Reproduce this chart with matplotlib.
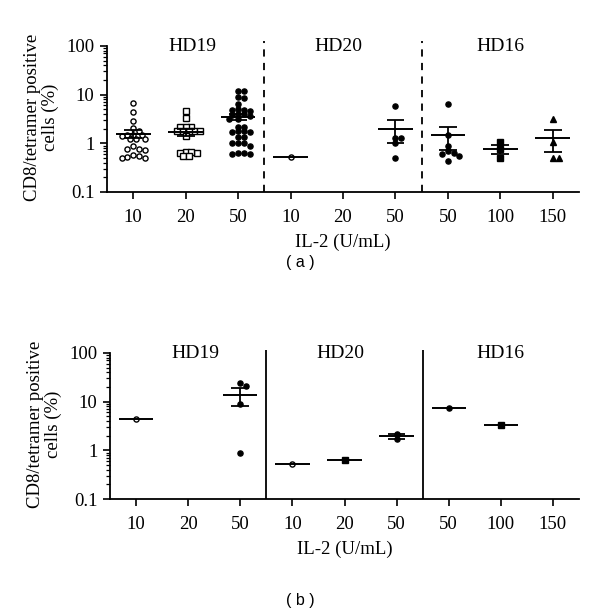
import numpy as np
import matplotlib
matplotlib.use("Agg")
import matplotlib.pyplot as plt
from matplotlib.ticker import FixedLocator, FixedFormatter, LogLocator, NullFormatter

# ---------------- data ----------------
xtick_labels = ["10", "20", "50", "10", "20", "50", "50", "100", "150"]
donors = ["HD19", "HD20", "HD16"]

# panel (a)
a_hd19_10 = [6.7, 4.4, 2.9, 2.1, 1.8, 1.5, 1.45, 1.5, 1.42, 1.25, 1.22, 1.2, 0.87, 0.75, 0.77,
             0.73, 0.57, 0.52, 0.5, 0.51, 0.56]
a_hd19_20 = [4.5, 3.3, 2.2, 2.2, 2.2, 1.8, 1.8, 1.8, 1.8, 1.8, 1.4, 0.66, 0.64, 0.64, 0.66,
             0.54, 0.55]
a_hd19_50 = [11.8, 11.8, 8.9, 8.5, 6.5, 5.0, 4.8, 4.9, 4.7, 4.0, 3.8, 3.7, 3.9, 3.2, 3.2,
             2.2, 2.2, 1.75, 1.7, 1.7, 1.75, 1.35, 1.35, 1.02, 1.0, 1.02, 0.88, 0.64, 0.6, 0.6, 0.64]
a_hd20_10 = [0.52]
a_hd20_20 = []
a_hd20_50 = [5.8, 1.3, 1.3, 1.0, 0.51]
a_hd16_50 = [6.5, 1.45, 0.9, 0.63, 0.68, 0.6, 0.55, 0.43]
a_hd16_100 = [1.06, 0.75, 0.5]
a_hd16_150 = [3.1, 1.06, 0.5, 0.5]

# panel (b)
b_hd19_10 = [4.3]
b_hd19_20 = []
b_hd19_50 = [21.0, 23.8, 8.8, 0.87]
b_hd20_10 = [0.52]
b_hd20_20 = [0.63]
b_hd20_50 = [1.68, 2.2]
b_hd16_50 = [7.5]
b_hd16_100 = [3.37]
b_hd16_150 = []

OPEN_O = dict(marker="o", mfc="white", mec="black")
OPEN_S = dict(marker="s", mfc="white", mec="black")
FILL_O = dict(marker="o", mfc="black", mec="black")
FILL_S = dict(marker="s", mfc="black", mec="black")
FILL_T = dict(marker="^", mfc="black", mec="black")

panel_a = [(a_hd19_10, OPEN_O), (a_hd19_20, OPEN_S), (a_hd19_50, FILL_O),
           (a_hd20_10, OPEN_O), (a_hd20_20, OPEN_O), (a_hd20_50, FILL_O),
           (a_hd16_50, FILL_O), (a_hd16_100, FILL_S), (a_hd16_150, FILL_T)]
panel_b = [(b_hd19_10, OPEN_O), (b_hd19_20, OPEN_O), (b_hd19_50, FILL_O),
           (b_hd20_10, OPEN_O), (b_hd20_20, FILL_S), (b_hd20_50, FILL_O),
           (b_hd16_50, FILL_O), (b_hd16_100, FILL_S), (b_hd16_150, FILL_T)]

SERIF = ["Liberation Serif", "DejaVu Serif"]
plt.rcParams["font.family"] = SERIF

W, H = 600, 612
fig = plt.figure(figsize=(W / 100, H / 100), dpi=100)

DEC_PX = 48.7   # pixels per decade
STEP_PX = 52.5  # pixels per category


def swarm(vals, d_px=5.8, thr=4.6):
    """simple beeswarm offsets (in category units)"""
    order = np.argsort(vals)[::-1]
    placed = []
    offs = np.zeros(len(vals))
    for i in order:
        y = np.log10(vals[i]) * DEC_PX
        cands = [0.0]
        for m in range(1, 30):
            cands += [m * d_px / 2, -m * d_px / 2]
        for c in cands:
            ok = all((c - px) ** 2 + (y - py) ** 2 >= thr ** 2 for px, py in placed)
            if ok:
                placed.append((c, y))
                offs[i] = c / STEP_PX
                break
    return offs


def make_panel(rect, groups, divider_style, title_y):
    ax = fig.add_axes(rect)
    ax.set_yscale("log")
    ax.set_ylim(0.1, 120)
    ax.set_xlim(-0.5, 8.5)
    for sp in ["top", "right"]:
        ax.spines[sp].set_visible(False)
    ax.spines["left"].set_bounds(0.1, 100)
    for sp in ["left", "bottom"]:
        ax.spines[sp].set_linewidth(1.3)
    ax.yaxis.set_major_locator(FixedLocator([0.1, 1, 10, 100]))
    ax.yaxis.set_major_formatter(FixedFormatter(["0.1", "1", "10", "100"]))
    ax.yaxis.set_minor_locator(LogLocator(base=10, subs=np.arange(2, 10)))
    ax.yaxis.set_minor_formatter(NullFormatter())
    ax.set_xticks(range(9))
    ax.set_xticklabels(xtick_labels)
    ax.tick_params(axis="both", which="major", direction="out", length=5, width=1.2,
                   labelsize=13.5, pad=4)
    ax.tick_params(axis="y", which="minor", direction="out", length=3, width=0.9)
    ax.tick_params(axis="x", pad=7)

    for pos, (vals, style) in enumerate(groups):
        if len(vals) == 0:
            continue
        vals = np.asarray(vals, dtype=float)
        offs = swarm(vals) if len(vals) > 1 else np.zeros(1)
        ax.plot(pos + offs, vals, linestyle="none", ms=3.7, mew=1.0, zorder=3, **style)
        mean = vals.mean()
        ax.hlines(mean, pos - 0.33, pos + 0.33, color="black", lw=1.4, zorder=4)
        if len(vals) > 1:
            sem = vals.std(ddof=1) / np.sqrt(len(vals))
            lo, hi = mean - sem, mean + sem
            ax.vlines(pos, lo, hi, color="black", lw=1.3, zorder=4)
            ax.hlines([lo, hi], pos - 0.17, pos + 0.17, color="black", lw=1.3, zorder=4)

    if divider_style == "dashed":
        ax.vlines([2.5, 5.5], 0.1, 125, colors="black", lw=1.3, linestyles=(0, (4, 3.5)),
                  clip_on=False)
    else:
        ax.vlines([2.5, 5.5], 0.1, 115, colors="black", lw=1.3, clip_on=False)

    for x, name in zip([1.13, 3.92, 7.0], donors):
        ax.text(x, title_y, name, ha="center", va="center", fontsize=14)

    ax.set_ylabel("CD8/tetramer positive\ncells (%)", fontsize=13.5, linespacing=1.05, labelpad=5)
    ax.set_xlabel("IL-2 (U/mL)", fontsize=13.5, labelpad=6)
    return ax


ax1 = make_panel([107 / W, 1 - 192 / H, 472 / W, 150 / H], panel_a, "dashed", 95)
ax2 = make_panel([110 / W, 1 - 499 / H, 469 / W, 150 / H], panel_b, "solid", 95)

fig.text(300 / W, 1 - 262 / H, "( a )", ha="center", va="center", fontsize=11.5,
         family=["Liberation Sans", "DejaVu Sans"])
fig.text(300 / W, 1 - 600 / H, "( b )", ha="center", va="center", fontsize=11.5,
         family=["Liberation Sans", "DejaVu Sans"])

fig.savefig("out.png", dpi=100, facecolor="white")
